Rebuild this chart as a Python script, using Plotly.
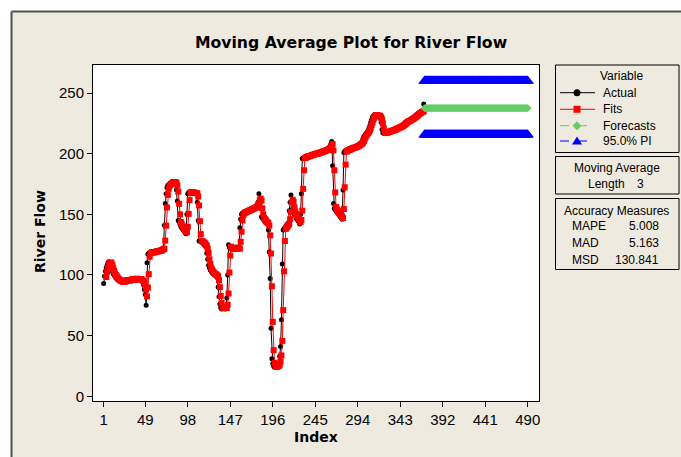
import plotly.graph_objects as go

# ---------------- data ----------------
ACTUAL = (
    [93, 99, 103, 106, 108, 110, 111, 110, 109, 106, 103, 101, 100, 99, 98, 97, 96, 96, 95, 95, 95, 94, 94]
    + [95, 95, 96, 96, 95, 95, 96, 96, 96, 97, 96, 96, 97, 97, 97, 96, 96, 97, 97, 96, 96, 95, 94, 92]
    + [88, 84, 75]
    + [110, 117, 118, 118, 119, 119, 118, 119, 119, 119, 120, 119, 120, 120, 120, 120, 121, 121, 122, 122]
    + [141, 159, 167, 172, 174]
    + [174, 175, 176, 175, 177, 176, 177, 176, 175]
    + [170, 161, 145, 144, 142, 140, 139, 138, 137, 136, 135, 134, 150]
    + [167, 168, 168, 169, 168, 168, 167, 168, 168, 167, 167]
    + [160, 145, 128, 128, 128, 127, 127, 126, 125, 124, 123]
    + [118, 113, 108, 106, 104, 103, 102, 101, 101, 100, 100, 99, 98]
    + [90, 82, 76, 73, 72, 73, 74, 73, 72, 73, 81, 100, 125]
    + [123, 122, 122, 121, 122, 122, 121, 122, 123, 122, 121, 122]
    + [139, 146]
    + [150, 151, 151, 152, 152, 152, 153, 153, 153, 154, 154, 154, 155, 155, 155, 156, 156, 157, 158, 160]
    + [167, 162, 155, 148, 147, 146, 145, 144, 143, 143]
    + [142, 137, 119, 97, 56, 31, 27, 25, 24, 25, 24, 25, 26, 27, 33, 41, 63, 109, 137]
    + [138, 139, 140, 141, 142, 143, 153, 160, 166, 160, 155, 152, 150, 149, 147, 146, 145, 144, 142, 150, 167]
    + [196, 196, 197, 197, 197, 198, 198, 198, 198, 199, 199, 199, 199, 200, 200, 200, 200, 200, 201, 201,
       201, 201, 202, 202, 202, 202, 203, 203, 203, 204, 204, 205, 206, 208]
    + [210, 190, 159, 155, 154, 153, 152, 151, 150, 149, 148, 147, 146, 170, 201]
    + [202, 202, 203, 203, 203, 204, 204, 204, 205, 205, 205, 205, 206, 206, 206, 207, 207, 208, 208, 209, 210, 212]
    + [214, 215, 216, 217, 218, 219, 221, 223, 226, 228, 230, 231]
    + [232, 232, 231, 231, 232, 231, 230, 229, 226, 220, 217]
    + [217, 217, 217, 218, 218, 218, 218, 219, 219, 219, 219, 220, 220, 220, 221, 221, 221, 222, 222, 222]
    + [223, 223, 224, 224, 225, 226, 226, 227, 227, 227, 228, 228, 229, 229, 230, 230, 231, 231, 232]
    + [233, 233, 234, 234, 235, 234, 236, 241]
)
INDEX = list(range(1, len(ACTUAL) + 1))
MA_LENGTH = 3
LAST_FORECAST_INDEX = 490
FORECAST_VALUE = 237.5
PI_LOWER_VALUE = 215.5
PI_UPPER_VALUE = 260.0
X_TICKS = [1, 49, 98, 147, 196, 245, 294, 343, 392, 441, 490]
Y_TICKS = [0, 50, 100, 150, 200, 250]
SERIES_NAMES = ["Actual", "Fits", "Forecasts", "95.0% PI"]
ACCURACY_LABELS = ["MAPE", "MAD", "MSD"]
ACCURACY_VALUES = ["5.008", "5.163", "130.841"]

# moving-average fits (one step ahead, length 3)
FIT_INDEX = INDEX[MA_LENGTH:]
FITS = [sum(ACTUAL[i - MA_LENGTH:i]) / MA_LENGTH for i in range(MA_LENGTH, len(ACTUAL))]
FORECAST_INDEX = list(range(len(ACTUAL) + 1, LAST_FORECAST_INDEX + 1))
FORECASTS = [FORECAST_VALUE] * len(FORECAST_INDEX)
PI_LOWER = [PI_LOWER_VALUE] * len(FORECAST_INDEX)
PI_UPPER = [PI_UPPER_VALUE] * len(FORECAST_INDEX)

# ---------------- styling ----------------
BEIGE = "#EEEAE0"
GREEN = "#66CC66"
BLUE = "#0000FF"
RED = "#FF0000"
REG = "Liberation Sans"
BOLD = "DejaVu Sans"

W, H = 681, 457
ML, MR, MT, MB = 93, 142, 65, 56
PW, PH = W - ML - MR, H - MT - MB


def PX(p):
    return (p - ML) / PW


def PY(p):
    return (H - MB - p) / PH


fig = go.Figure()
fig.add_trace(go.Scatter(
    x=INDEX, y=ACTUAL, name=SERIES_NAMES[0], mode="lines+markers",
    line=dict(color="black", width=1),
    marker=dict(symbol="circle", size=5, color="black"),
))
fig.add_trace(go.Scatter(
    x=FIT_INDEX, y=FITS, name=SERIES_NAMES[1], mode="lines+markers",
    line=dict(color=RED, width=1),
    marker=dict(symbol="square", size=6, color=RED),
))
fig.add_trace(go.Scatter(
    x=FORECAST_INDEX, y=FORECASTS, name=SERIES_NAMES[2], mode="lines+markers",
    line=dict(color=GREEN, width=1, dash="dash"),
    marker=dict(symbol="diamond", size=6, color=GREEN),
))
for ys in (PI_UPPER, PI_LOWER):
    fig.add_trace(go.Scatter(
        x=FORECAST_INDEX, y=ys, name=SERIES_NAMES[3], mode="lines+markers",
        line=dict(color=BLUE, width=1, dash="dash"),
        marker=dict(symbol="triangle-up", size=11, color=BLUE),
    ))

axis_common = dict(
    showline=True, linecolor="black", linewidth=1, mirror=True,
    ticks="outside", ticklen=5, tickcolor="black", tickwidth=1,
    showgrid=False, zeroline=False,
    tickfont=dict(family=REG, size=15, color="black"),
)
fig.update_xaxes(range=[-11.3, 503], tickvals=X_TICKS, ticktext=[str(t) for t in X_TICKS], **axis_common)
fig.update_yaxes(range=[-3.9, 273.1], tickvals=Y_TICKS, **axis_common)

shapes = []
annotations = []

# outer frame (top and left edges visible), kept within the page
shapes.append(dict(type="rect", xref="paper", yref="paper", layer="below",
                   x0=PX(0), x1=PX(W), y0=PY(0), y1=PY(11),
                   fillcolor="white", line=dict(width=0)))
shapes.append(dict(type="rect", xref="paper", yref="paper", layer="below",
                   x0=PX(0), x1=PX(11), y0=PY(0), y1=PY(H),
                   fillcolor="white", line=dict(width=0)))
shapes.append(dict(type="line", xref="paper", yref="paper", layer="below",
                   x0=PX(11.5), x1=PX(W), y0=PY(11.5), y1=PY(11.5),
                   line=dict(color="#505050", width=2)))
shapes.append(dict(type="line", xref="paper", yref="paper", layer="below",
                   x0=PX(11.5), x1=PX(11.5), y0=PY(11.5), y1=PY(H),
                   line=dict(color="#505050", width=2)))

# legend boxes
BOX_X0, BOX_X1 = 555.5, 679
for (y0, y1) in [(65, 152.5), (156.5, 194), (198.5, 269.5)]:
    shapes.append(dict(type="rect", xref="paper", yref="paper",
                       x0=PX(BOX_X0), x1=PX(BOX_X1), y0=PY(y0), y1=PY(y1),
                       line=dict(color="black", width=1)))


def text(x, y, s, anchor="center", size=12, family=REG, angle=0):
    annotations.append(dict(xref="paper", yref="paper", x=PX(x), y=PY(y), text=s,
                            showarrow=False, xanchor=anchor, yanchor="middle",
                            textangle=angle,
                            font=dict(family=family, size=size, color="black")))


text(621, 75.7, "Variable")
ENTRY_Y = [92.7, 109.3, 125.7, 141]
LX0, LX1, MX = 560, 595, 577
sample_styles = [
    ("black", "solid"), (RED, "solid"), (GREEN, "dash"), (BLUE, "dash"),
]
for name, y, (col, dash) in zip(SERIES_NAMES, ENTRY_Y, sample_styles):
    shapes.append(dict(type="line", xref="paper", yref="paper",
                       x0=PX(LX0), x1=PX(LX1), y0=PY(y), y1=PY(y),
                       line=dict(color=col, width=1, dash=dash)))
    text(601, y, name, anchor="left")

y = ENTRY_Y[0]
shapes.append(dict(type="circle", xref="paper", yref="paper",
                   x0=PX(MX - 3.5), x1=PX(MX + 3.5), y0=PY(y + 3.5), y1=PY(y - 3.5),
                   fillcolor="black", line=dict(width=0)))
y = ENTRY_Y[1]
shapes.append(dict(type="rect", xref="paper", yref="paper",
                   x0=PX(MX - 3.5), x1=PX(MX + 3.5), y0=PY(y + 3.5), y1=PY(y - 3.5),
                   fillcolor=RED, line=dict(width=0)))
y = ENTRY_Y[2]
shapes.append(dict(type="path", xref="paper", yref="paper",
                   path=f"M {PX(MX)},{PY(y - 4.5)} L {PX(MX + 4.5)},{PY(y)} L {PX(MX)},{PY(y + 4.5)} L {PX(MX - 4.5)},{PY(y)} Z",
                   fillcolor=GREEN, line=dict(width=0)))
y = ENTRY_Y[3]
shapes.append(dict(type="path", xref="paper", yref="paper",
                   path=f"M {PX(MX - 5)},{PY(y + 3.5)} L {PX(MX + 5)},{PY(y + 3.5)} L {PX(MX)},{PY(y - 4.5)} Z",
                   fillcolor=BLUE, line=dict(width=0)))

text(617, 168.3, "Moving Average")
text(586, 184, "Length", anchor="left")
text(640, 184, str(MA_LENGTH))

text(616, 210.7, "Accuracy Measures")
for lab, val, yy in zip(ACCURACY_LABELS, ACCURACY_VALUES, [225.7, 242.7, 259.5]):
    text(570, yy, lab, anchor="left")
    text(661, yy, val, anchor="right")

# axis titles
text(40, 232, "<b>River Flow</b>", size=14, family=BOLD, angle=-90)
text(316, 437, "<b>Index</b>", size=14, family=BOLD)

fig.update_layout(
    width=W, height=H,
    margin=dict(l=ML, r=MR, t=MT, b=MB),
    paper_bgcolor=BEIGE, plot_bgcolor="white",
    showlegend=False,
    title=dict(text="<b>Moving Average Plot for River Flow</b>",
               x=351 / W, xanchor="center", xref="container",
               y=1 - 43 / H, yanchor="middle", yref="container",
               font=dict(family=BOLD, size=15.7, color="black")),
    shapes=shapes, annotations=annotations,
)

fig.write_html(
    "out.html",
    config={"displayModeBar": False},
    post_script="document.documentElement.style.overflow='hidden';"
                "document.body.style.overflow='hidden';document.body.style.margin='0';",
)
